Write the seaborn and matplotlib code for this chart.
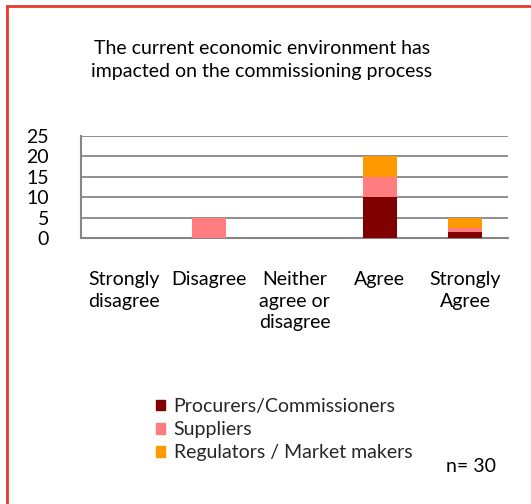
import matplotlib
matplotlib.use("Agg")
import matplotlib.pyplot as plt
import matplotlib.patches as mpatches
import seaborn as sns
import pandas as pd
import numpy as np

categories = ["Strongly\ndisagree", "Disagree", "Neither\nagree or\ndisagree", "Agree", "Strongly\nAgree"]
procurers = [0, 0, 0, 10, 1.5]
suppliers = [0, 5, 0, 5, 1.0]
regulators = [0, 0, 0, 5, 2.5]
series_names = ["Procurers/Commissioners", "Suppliers", "Regulators / Market makers"]
series_colors = ["#800000", "#FF7C80", "#FF9900"]
y_ticks = [0, 5, 10, 15, 20, 25]
title_text = "The current economic environment has\nimpacted on the commissioning process"
sample_note = "n= 30"

sns.set_theme(style="white")
plt.rcParams["font.family"] = ["Lato", "DejaVu Sans"]
FS = 14

fig = plt.figure(figsize=(5.31, 5.04), dpi=100)
ax = fig.add_axes([81 / 531, 1 - 238 / 504, (508 - 81) / 531, (238 - 136) / 504])

# stacked bars: draw cumulative totals from the top layer down
stack = np.array([procurers, suppliers, regulators])
cum = np.cumsum(stack, axis=0)
for i in reversed(range(3)):
    df = pd.DataFrame({"cat": categories, "val": cum[i]})
    sns.barplot(data=df, x="cat", y="val", color=series_colors[i], width=0.4,
                saturation=1, ax=ax, linewidth=0, zorder=3)

ax.set_ylim(0, 25)
ax.set_yticks(y_ticks)
ax.set_yticklabels([str(t) for t in y_ticks], fontsize=FS, color="black")
ax.set_xlabel("")
ax.set_ylabel("")
ax.yaxis.grid(True, color="#868686", linewidth=1.3, zorder=0)
ax.set_axisbelow(True)
ax.tick_params(axis="y", length=0, pad=23)
ax.tick_params(axis="x", length=0, pad=24, labelsize=FS, labelcolor="black")
for lbl in ax.get_xticklabels():
    lbl.set_verticalalignment("top")
    lbl.set_horizontalalignment("center")
    lbl.set_linespacing(1.32)
for s in ["top", "right"]:
    ax.spines[s].set_visible(False)
for s in ["left", "bottom"]:
    ax.spines[s].set_color("#868686")
    ax.spines[s].set_linewidth(1.5)

fig.text(262 / 531, 1 - 40 / 504, title_text, ha="center", va="top",
         fontsize=FS, linespacing=1.42, color="black")

handles = [mpatches.Patch(color=c, label=n) for c, n in zip(series_colors, series_names)]
fig.legend(handles=handles, loc="upper left", bbox_to_anchor=(156 / 531, 1 - 398 / 504),
           frameon=False, fontsize=FS, handlelength=0.45, handleheight=0.45,
           handletextpad=0.45, labelspacing=0.32, borderpad=0, borderaxespad=0)

fig.text(471 / 531, 1 - 466 / 504, sample_note, ha="center", va="center", fontsize=FS,
         color="black")

# chart frame: only the top and left edges fall inside the image
fig.patches.append(mpatches.Rectangle((7 / 531, -20 / 504), 560 / 531, (504 - 6 + 20) / 504,
                                      transform=fig.transFigure, fill=False,
                                      edgecolor="#E8392A", linewidth=2))

fig.savefig("out.png", dpi=100)
